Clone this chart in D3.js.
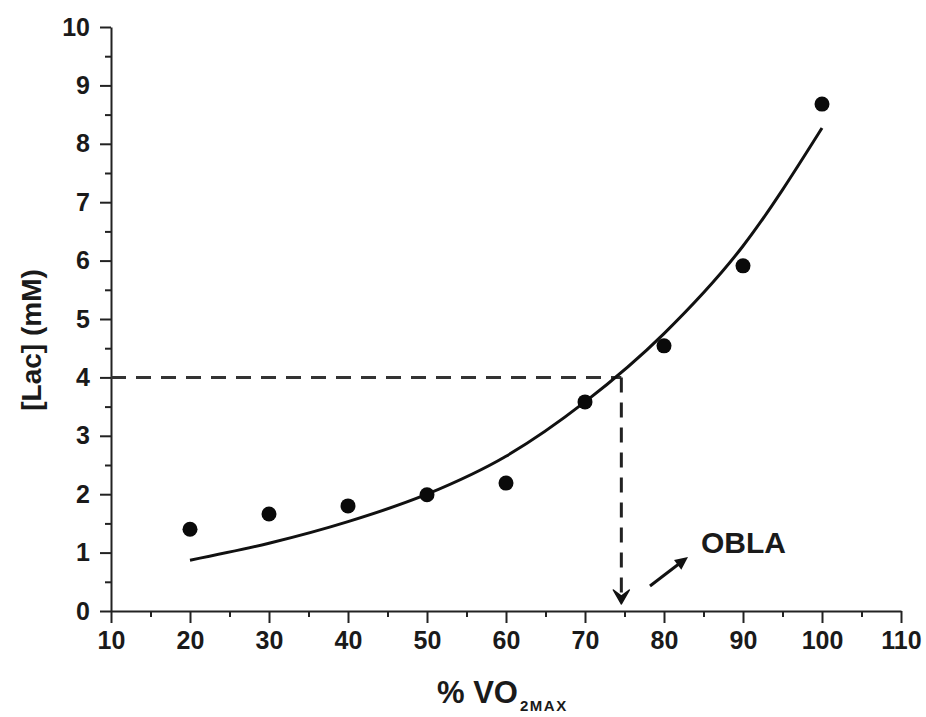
<!DOCTYPE html>
<html>
<head>
<meta charset="utf-8">
<script src="https://cdn.jsdelivr.net/npm/d3@7"></script>
<style>
  body { margin: 0; background: #fff; }
  svg text { font-family: "Liberation Sans", Arial, sans-serif; font-weight: bold; fill: #1a1a1a; }
  .axis path, .axis line { stroke: #222; stroke-width: 2; }
</style>
</head>
<body>
<svg id="figure" width="926" height="717"></svg>
<script>
// measured lactate points
const vo2Pct = [20, 30, 40, 50, 60, 70, 80, 90, 100];
const lacMeasured = [1.40, 1.66, 1.80, 1.99, 2.19, 3.58, 4.54, 5.91, 8.68];

// fitted curve
const fitPct = [20, 30, 40, 50, 60, 70, 80, 90, 100];
const fitLac = [0.87, 1.16, 1.53, 2.0, 2.65, 3.58, 4.75, 6.25, 8.27];

// axis ticks
const xMajor = [10, 20, 30, 40, 50, 60, 70, 80, 90, 100, 110];
const xMinor = [15, 25, 35, 45, 55, 65, 75, 85, 95, 105];
const yMajor = [0, 1, 2, 3, 4, 5, 6, 7, 8, 9, 10];
const yMinor = [0.5, 1.5, 2.5, 3.5, 4.5, 5.5, 6.5, 7.5, 8.5, 9.5];

// onset of blood lactate accumulation
const oblaLac = 4;
const oblaPct = 74.6;

const svg = d3.select("#figure");

const x = d3.scaleLinear().domain([10, 110]).range([111, 901]);
const y = d3.scaleLinear().domain([0, 10]).range([611, 27]);

// minor ticks first, then major axes on top
svg.append("g")
    .attr("class", "axis")
    .attr("transform", "translate(0," + y(0) + ")")
    .call(d3.axisBottom(x).tickValues(xMinor).tickSize(6).tickFormat(""))
    .call(g => g.select(".domain").remove());

svg.append("g")
    .attr("class", "axis")
    .attr("transform", "translate(" + x(10) + ",0)")
    .call(d3.axisLeft(y).tickValues(yMinor).tickSize(6).tickFormat(""))
    .call(g => g.select(".domain").remove());

const xAxis = svg.append("g")
    .attr("class", "axis")
    .attr("transform", "translate(0," + y(0) + ")")
    .call(d3.axisBottom(x).tickValues(xMajor).tickSize(12).tickSizeOuter(0).tickPadding(8));
xAxis.selectAll("text").style("font-size", "25px").attr("fill", "#1a1a1a");

const yAxis = svg.append("g")
    .attr("class", "axis")
    .attr("transform", "translate(" + x(10) + ",0)")
    .call(d3.axisLeft(y).tickValues(yMajor).tickSize(11).tickSizeOuter(0).tickPadding(10));
yAxis.selectAll("text").style("font-size", "25px").attr("fill", "#1a1a1a");

// dashed OBLA guide lines
svg.append("line")
    .attr("x1", x(10)).attr("y1", y(oblaLac))
    .attr("x2", x(oblaPct)).attr("y2", y(oblaLac))
    .attr("stroke", "#333").attr("stroke-width", 3)
    .attr("stroke-dasharray", "15,10");

svg.append("line")
    .attr("x1", x(oblaPct)).attr("y1", y(oblaLac))
    .attr("x2", x(oblaPct)).attr("y2", y(0) - 16)
    .attr("stroke", "#222").attr("stroke-width", 3)
    .attr("stroke-dasharray", "15,10");

// arrow head at the bottom of the vertical guide
const ax = x(oblaPct), ay = y(0) - 7;
svg.append("path")
    .attr("d", `M${ax},${ay} L${ax - 8},${ay - 14} L${ax},${ay - 8} L${ax + 8},${ay - 14} Z`)
    .attr("fill", "#111").attr("stroke", "#111").attr("stroke-width", 1.5)
    .attr("stroke-linejoin", "round");

// fitted curve
const line = d3.line()
    .x(d => x(d[0]))
    .y(d => y(d[1]))
    .curve(d3.curveMonotoneX);

svg.append("path")
    .datum(fitPct.map((p, i) => [p, fitLac[i]]))
    .attr("d", line)
    .attr("fill", "none")
    .attr("stroke", "#111")
    .attr("stroke-width", 3);

// measured points
svg.selectAll("circle.pt")
    .data(vo2Pct.map((p, i) => [p, lacMeasured[i]]))
    .join("circle")
    .attr("class", "pt")
    .attr("cx", d => x(d[0]))
    .attr("cy", d => y(d[1]))
    .attr("r", 7.5)
    .attr("fill", "#0a0a0a");

// OBLA label and pointer arrow
const px1 = 650, py1 = 586, px2 = 688, py2 = 557;
svg.append("line")
    .attr("x1", px1).attr("y1", py1)
    .attr("x2", px2 - 4).attr("y2", py2 + 3)
    .attr("stroke", "#111").attr("stroke-width", 3);
const ang = Math.atan2(py2 - py1, px2 - px1);
const hl = 13, hw = 6;
svg.append("path")
    .attr("d", () => {
        const bx = px2 - hl * Math.cos(ang), by = py2 - hl * Math.sin(ang);
        const nx = -Math.sin(ang) * hw, ny = Math.cos(ang) * hw;
        return `M${px2},${py2} L${bx + nx},${by + ny} L${bx - nx},${by - ny} Z`;
    })
    .attr("fill", "#111");

svg.append("text")
    .attr("x", 701).attr("y", 553)
    .style("font-size", "30px")
    .text("OBLA");

// axis titles
svg.append("text")
    .attr("transform", "translate(41,340) rotate(-90)")
    .attr("text-anchor", "middle")
    .style("font-size", "28px")
    .text("[Lac] (mM)");

const xt = svg.append("text")
    .attr("x", 437).attr("y", 703)
    .style("font-size", "31px");
xt.append("tspan").text("% VO");
xt.append("tspan").attr("dx", 2).attr("dy", 8)
    .style("font-size", "15px").style("letter-spacing", "1.5px")
    .text("2MAX");
</script>
</body>
</html>
